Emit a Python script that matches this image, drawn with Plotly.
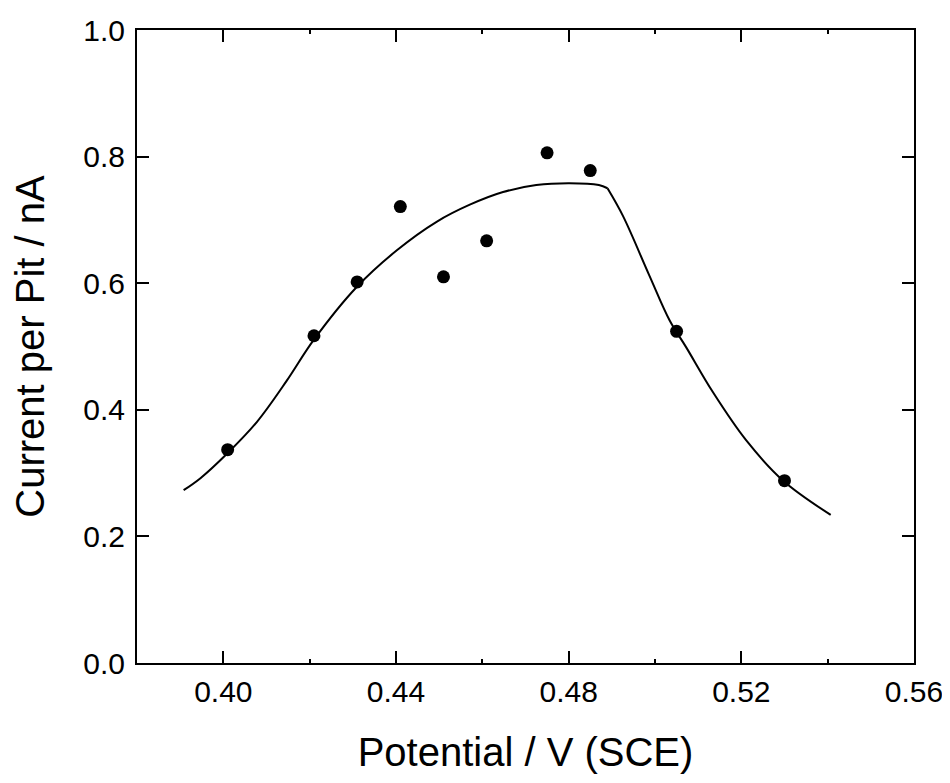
import plotly.graph_objects as go

# Measured data points
potential_pts = [0.401, 0.421, 0.431, 0.441, 0.451, 0.461, 0.475, 0.485, 0.505, 0.530]
current_pts = [0.337, 0.517, 0.602, 0.721, 0.610, 0.667, 0.806, 0.778, 0.524, 0.288]

# Fitted curve; it has a kink at index KINK
potential_fit = [0.3908, 0.3947, 0.4009, 0.4078, 0.4147, 0.4209, 0.4309, 0.4402, 0.4494,
                 0.4571, 0.4648, 0.4725, 0.4802, 0.4870, 0.4890, 0.4926, 0.4987, 0.5034,
                 0.5072, 0.5134, 0.5211, 0.5297, 0.5407]
current_fit = [0.273, 0.292, 0.331, 0.381, 0.446, 0.510, 0.594, 0.652, 0.697,
               0.724, 0.744, 0.755, 0.758, 0.755, 0.750, 0.706, 0.612, 0.541,
               0.499, 0.428, 0.352, 0.288, 0.234]
KINK = 14

x_ticks = [0.40, 0.44, 0.48, 0.52, 0.56]
x_minor = [0.38, 0.42, 0.46, 0.50, 0.54]
y_ticks = [0.0, 0.2, 0.4, 0.6, 0.8, 1.0]

FONT = "Liberation Sans, Arial, Helvetica, sans-serif"

fig = go.Figure()
for a, b in [(0, KINK + 1), (KINK, len(potential_fit))]:
    fig.add_trace(go.Scatter(x=potential_fit[a:b], y=current_fit[a:b], mode="lines",
                             line=dict(color="black", width=2, shape="spline", smoothing=1.0),
                             showlegend=False, hoverinfo="skip"))
fig.add_trace(go.Scatter(x=potential_pts, y=current_pts, mode="markers",
                         marker=dict(color="black", size=13),
                         showlegend=False))

axis_common = dict(showline=True, linecolor="black", linewidth=2, mirror="ticks",
                   ticks="inside", ticklen=12, tickwidth=2, tickcolor="black",
                   showgrid=False, zeroline=False,
                   tickfont=dict(family=FONT, size=30, color="black"))

fig.update_xaxes(range=[0.38, 0.56], tickvals=x_ticks,
                 ticktext=[f"{v:.2f}" for v in x_ticks],
                 minor=dict(ticks="inside", ticklen=4, tickwidth=1.5, tickcolor="black",
                            tickvals=x_minor),
                 ticklabelstandoff=1,
                 title=dict(text="Potential / V (SCE)", standoff=31,
                            font=dict(family=FONT, size=40, color="black")),
                 **axis_common)
fig.update_yaxes(range=[0, 1.0], tickvals=y_ticks,
                 ticktext=[f"{v:.1f}" for v in y_ticks],
                 ticklabelstandoff=4,
                 title=dict(text="Current per Pit / nA", standoff=29,
                            font=dict(family=FONT, size=40, color="black")),
                 **axis_common)

fig.update_layout(width=942, height=775,
                  margin=dict(l=129, r=36, t=22, b=120, autoexpand=False),
                  plot_bgcolor="white", paper_bgcolor="white",
                  font=dict(family=FONT, color="black"))

fig.write_html("out.html")
